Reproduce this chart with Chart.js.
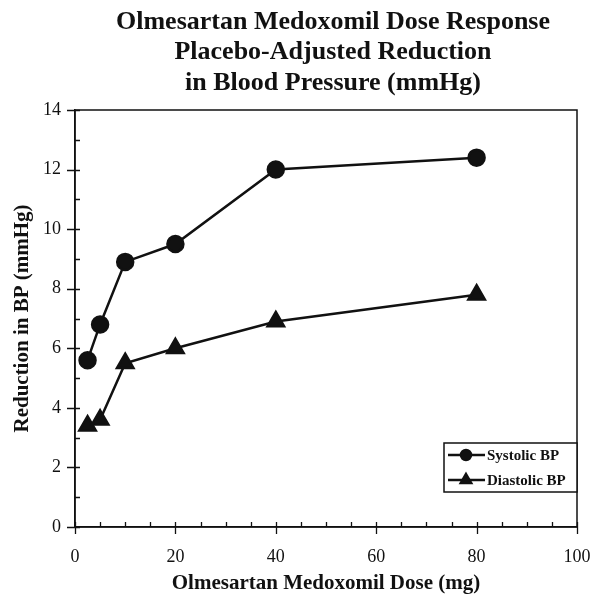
<!DOCTYPE html>
<html>
<head>
<meta charset="utf-8">
<script src="https://cdn.jsdelivr.net/npm/chart.js@4/dist/chart.umd.min.js"></script>
<style>
  html, body { margin: 0; padding: 0; background: #fff; }
  #wrap { width: 605px; height: 594px; }
</style>
</head>
<body>
<div id="wrap"><canvas id="c" width="605" height="594"></canvas></div>
<script>
const titleLines = ["Olmesartan Medoxomil Dose Response", "Placebo-Adjusted Reduction", "in Blood Pressure (mmHg)"];
const doses = [2.5, 5, 10, 20, 40, 80];
const systolic = [5.6, 6.8, 8.9, 9.5, 12.0, 12.4];
const diastolic = [3.4, 3.6, 5.5, 6.0, 6.9, 7.8];
const seriesNames = ["Systolic BP", "Diastolic BP"];
const xTitle = "Olmesartan Medoxomil Dose (mg)";
const yTitle = "Reduction in BP (mmHg)";

const INK = '#111';
const SERIF = '"Liberation Serif", "Times New Roman", serif';

const toPts = (xs, ys) => xs.map((x, i) => ({ x: x, y: ys[i] }));

const framePlugin = {
  id: 'frame',
  afterDatasetsDraw(chart) {
    const ctx = chart.ctx, a = chart.chartArea;
    const xs = chart.scales.x, ys = chart.scales.y;
    ctx.save();
    ctx.strokeStyle = INK;
    ctx.lineWidth = 1.5;
    ctx.strokeRect(a.left, a.top, a.right - a.left, a.bottom - a.top);
    ctx.lineWidth = 1.3;
    ctx.beginPath();
    for (let v = 0; v <= 14; v += 1) {
      const py = Math.round(ys.getPixelForValue(v)) + 0.5;
      const major = v % 2 === 0;
      ctx.moveTo(a.left - (major ? 8 : 0), py);
      ctx.lineTo(a.left + 5, py);
    }
    for (let v = 0; v <= 100; v += 5) {
      const px = Math.round(xs.getPixelForValue(v)) + 0.5;
      const major = v % 20 === 0;
      ctx.moveTo(px, a.bottom + (major ? 7 : 0));
      ctx.lineTo(px, a.bottom - 5);
    }
    ctx.stroke();
    ctx.restore();
  }
};

const titlePlugin = {
  id: 'customTitle',
  afterDraw(chart) {
    const ctx = chart.ctx;
    ctx.save();
    ctx.fillStyle = INK;
    ctx.font = 'bold 26px ' + SERIF;
    ctx.textAlign = 'center';
    ctx.textBaseline = 'alphabetic';
    titleLines.forEach((t, i) => ctx.fillText(t, 333, 28.5 + i * 30.5));
    ctx.restore();
  }
};

const legendPlugin = {
  id: 'boxLegend',
  afterDraw(chart) {
    const ctx = chart.ctx, a = chart.chartArea;
    const bx = a.right - 133, by = a.top + 333, bw = 133, bh = 49;
    ctx.save();
    ctx.fillStyle = '#fff';
    ctx.fillRect(bx, by, bw, bh);
    ctx.strokeStyle = INK;
    ctx.lineWidth = 1.5;
    ctx.strokeRect(bx, by, bw, bh);
    chart.data.datasets.forEach((ds, i) => {
      const cy = by + 12 + i * 25;
      ctx.strokeStyle = INK;
      ctx.lineWidth = 2.5;
      ctx.beginPath();
      ctx.moveTo(bx + 4, cy);
      ctx.lineTo(bx + 41, cy);
      ctx.stroke();
      ctx.fillStyle = INK;
      Chart.helpers.drawPoint(ctx, { pointStyle: ds.pointStyle, radius: ds.pointStyle === 'circle' ? 5 : 6, borderWidth: 1 }, bx + 22, cy);
      ctx.fill();
      ctx.font = 'bold 15px ' + SERIF;
      ctx.textAlign = 'left';
      ctx.textBaseline = 'middle';
      ctx.fillText(ds.label, bx + 43, cy + 1);
    });
    ctx.restore();
  }
};

new Chart(document.getElementById('c'), {
  type: 'line',
  data: {
    datasets: [
      {
        label: seriesNames[0],
        data: toPts(doses, systolic),
        borderColor: INK, backgroundColor: INK, borderWidth: 2.5,
        pointStyle: 'circle', pointRadius: 8, pointBackgroundColor: INK, pointBorderColor: INK,
        tension: 0
      },
      {
        label: seriesNames[1],
        data: toPts(doses, diastolic),
        borderColor: INK, backgroundColor: INK, borderWidth: 2.5,
        pointStyle: 'triangle', pointRadius: 9.5, pointBackgroundColor: INK, pointBorderColor: INK,
        tension: 0
      }
    ]
  },
  options: {
    responsive: false,
    animation: false,
    layout: { padding: { top: 110, right: 28, left: 0, bottom: 0 } },
    plugins: { legend: { display: false }, title: { display: false }, tooltip: { enabled: false } },
    scales: {
      x: {
        type: 'linear', min: 0, max: 100,
        afterFit(s) { s.height = 67; s.paddingLeft = 0; s.paddingRight = 0; },
        grid: { display: false, drawTicks: false },
        border: { display: true, color: INK, width: 1.5 },
        ticks: { stepSize: 20, color: INK, font: { family: SERIF, size: 18 }, padding: 19, maxRotation: 0 },
        title: { display: true, text: xTitle, color: INK, font: { family: SERIF, size: 21, weight: 'bold' }, padding: { top: 0, bottom: -2 } }
      },
      y: {
        type: 'linear', min: 0, max: 14,
        afterFit(s) { s.width = 75; s.paddingTop = 0; s.paddingBottom = 0; },
        grid: { display: false, drawTicks: false },
        border: { display: true, color: INK, width: 1.5 },
        ticks: { stepSize: 2, color: INK, font: { family: SERIF, size: 18 }, padding: 14 },
        title: { display: true, text: yTitle, color: INK, font: { family: SERIF, size: 21, weight: 'bold' }, padding: { top: 9.5, bottom: 0 } }
      }
    }
  },
  plugins: [framePlugin, titlePlugin, legendPlugin]
});
</script>
</body>
</html>
